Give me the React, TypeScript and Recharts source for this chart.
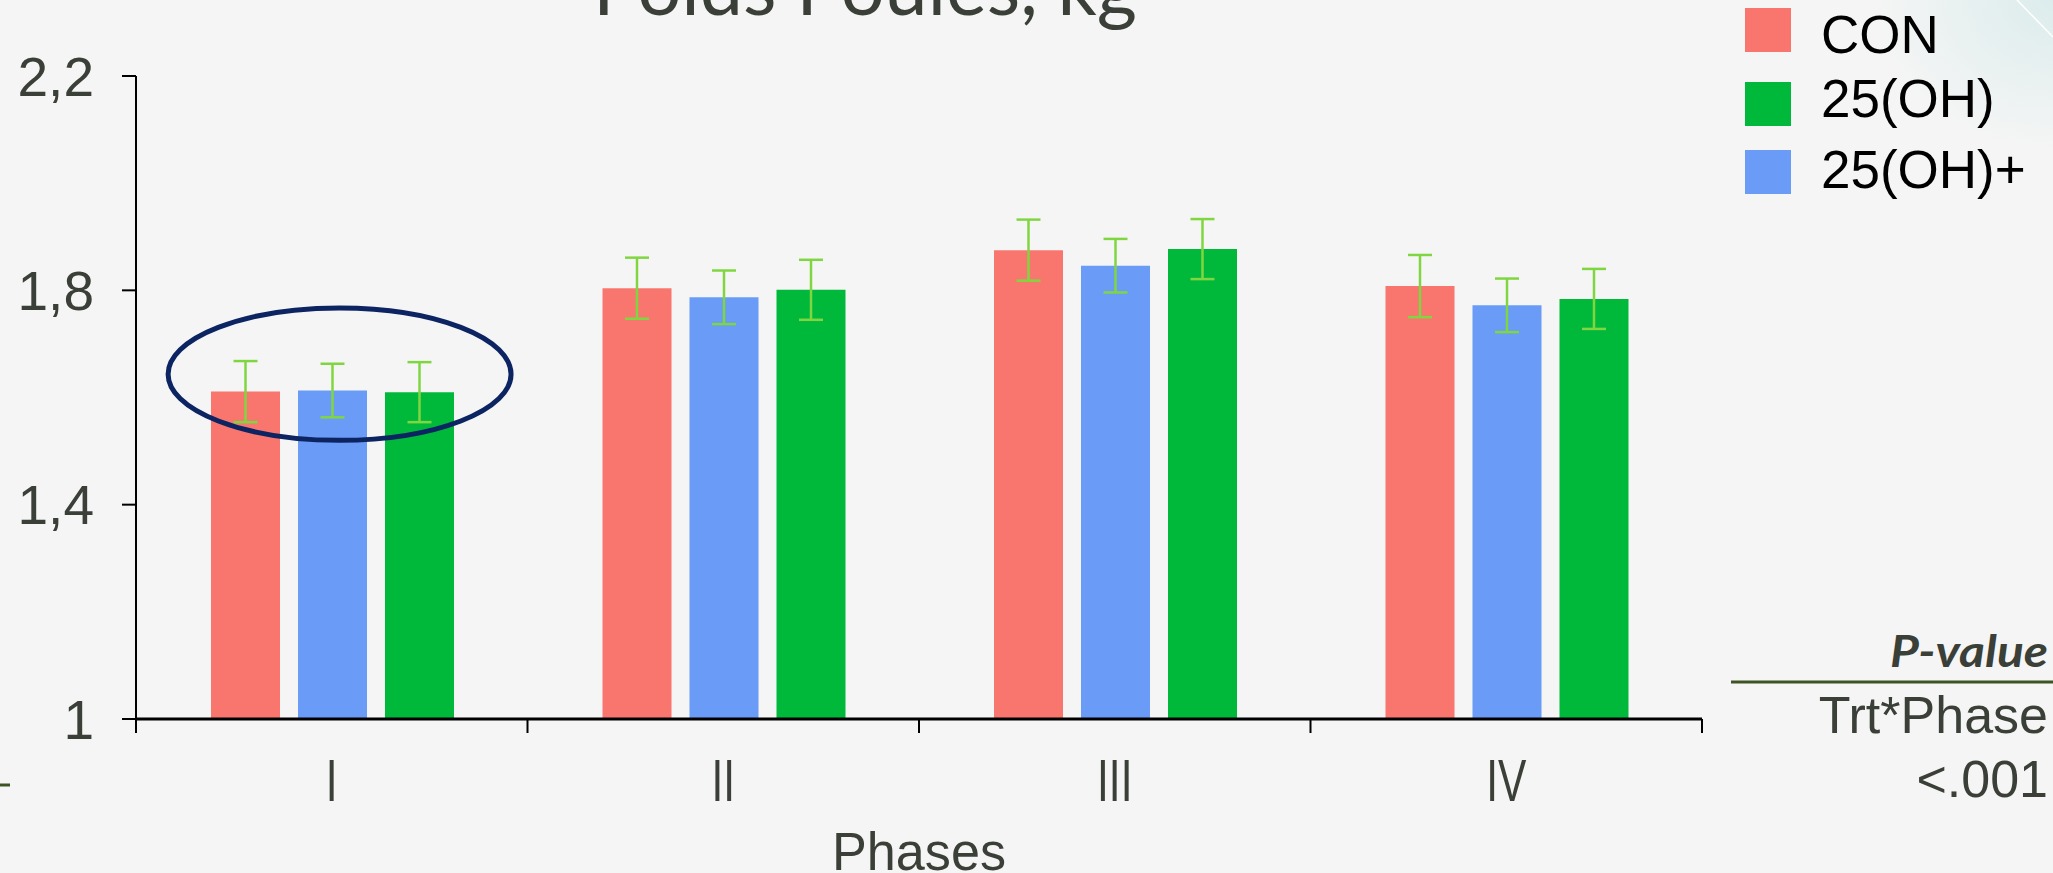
import React from "react";
import { ComposedChart, Bar, ErrorBar, XAxis, YAxis, ReferenceArea } from "recharts";

// values (kg)
const phases = ["I", "II", "III", "IV"];
const conMean = [1.611, 1.804, 1.875, 1.808];
const conErr = [0.057, 0.057, 0.057, 0.058];
const ohPlusMean = [1.613, 1.787, 1.846, 1.772];
const ohPlusErr = [0.05, 0.05, 0.05, 0.05];
const ohMean = [1.61, 1.801, 1.877, 1.784];
const ohErr = [0.056, 0.056, 0.056, 0.056];
const yTicks = [1, 1.4, 1.8, 2.2];

const legendNames = ["CON", "25(OH)", "25(OH)+"];

const RED = "#F8766D";
const GREEN = "#00B93A";
const BLUE = "#699BF7";
const ERR = "#80D641";
const NAVY = "#0C2461";
const TEXT = "#3A3F37";
const OLIVE = "#3F5424";
const FONT = "'Liberation Sans', Arial, sans-serif";

const legendColors = [RED, GREEN, BLUE];
const legendTop = [8, 82, 150];
const legendBase = [53, 117, 188];

const data = phases.map((p, i) => ({
  phase: p,
  con: conMean[i],
  conErr: conErr[i],
  ohPlus: ohPlusMean[i],
  ohPlusErr: ohPlusErr[i],
  oh: ohMean[i],
  ohErr: ohErr[i],
}));

function PhaseTick(props: any) {
  const { x, y, payload, index } = props;
  const half = payload.offset ?? 0;
  return (
    <g>
      <line x1={x - half} x2={x - half} y1={y} y2={y + 14} stroke="#000" strokeWidth={2} />
      {index === phases.length - 1 && (
        <line x1={x + half} x2={x + half} y1={y} y2={y + 14} stroke="#000" strokeWidth={2} />
      )}
      <text
        transform={`translate(${x},${y + 82}) scale(0.72,1)`}
        textAnchor="middle"
        fontSize={59}
        fill={TEXT}
        fontFamily={FONT}
      >
        {payload.value}
      </text>
    </g>
  );
}

function PhasesLabel(props: any) {
  const vb = props.viewBox;
  if (!vb) return null;
  return (
    <text
      x={vb.x + vb.width / 2}
      y={vb.y + 151}
      textAnchor="middle"
      fontSize={54}
      fill={TEXT}
      fontFamily={FONT}
      textLength={174}
      lengthAdjust="spacingAndGlyphs"
    >
      Phases
    </text>
  );
}

// circled group in phase I
function EllipseShape(p: any) {
  return (
    <ellipse
      cx={p.x + p.width * 0.52}
      cy={p.y + p.height / 2}
      rx={p.width * 0.438}
      ry={p.height / 2}
      fill="none"
      stroke={NAVY}
      strokeWidth={5}
    />
  );
}

export default function App() {
  return (
    <div
      style={{
        position: "absolute",
        left: 0,
        top: 0,
        width: 2053,
        height: 873,
        background: "#F5F5F5",
        overflow: "hidden",
      }}
    >
      <div
        style={{
          position: "absolute",
          right: 0,
          top: 0,
          width: 260,
          height: 200,
          background:
            "radial-gradient(ellipse 180px 150px at 100% 0%, #DCECEC 0%, rgba(245,245,245,0) 100%)",
        }}
      />
      <div style={{ position: "absolute", left: 0, top: 0 }}>
        <ComposedChart
          width={2053}
          height={873}
          data={data}
          margin={{ top: 76, right: 351, bottom: 54, left: 16 }}
          barCategoryGap={75}
          barGap={18}
        >
          <XAxis
            dataKey="phase"
            height={100}
            tickSize={0}
            tickMargin={0}
            tickLine={false}
            interval={0}
            axisLine={{ stroke: "#000", strokeWidth: 3 }}
            tick={<PhaseTick />}
            label={<PhasesLabel />}
          />
          <YAxis
            domain={[1, 2.2]}
            ticks={yTicks}
            width={120}
            tickSize={14}
            tickMargin={28}
            allowDataOverflow
            axisLine={{ stroke: "#000", strokeWidth: 2 }}
            tickLine={{ stroke: "#000", strokeWidth: 2 }}
            tick={{ fontSize: 55, fill: TEXT, fontFamily: FONT }}
            tickFormatter={(v: number) => String(v).replace(".", ",")}
          />
          <Bar dataKey="con" fill={RED} isAnimationActive={false}>
            <ErrorBar dataKey="conErr" width={12} stroke={ERR} strokeWidth={2.5} />
          </Bar>
          <Bar dataKey="ohPlus" fill={BLUE} isAnimationActive={false}>
            <ErrorBar dataKey="ohPlusErr" width={12} stroke={ERR} strokeWidth={2.5} />
          </Bar>
          <Bar dataKey="oh" fill={GREEN} isAnimationActive={false}>
            <ErrorBar dataKey="ohErr" width={12} stroke={ERR} strokeWidth={2.5} />
          </Bar>
          <ReferenceArea
            x1="I"
            x2="I"
            y1={1.52}
            y2={1.767}
            ifOverflow="visible"
            shape={EllipseShape}
            zIndex={1000}
          />
        </ComposedChart>
      </div>

      <svg
        width={2053}
        height={873}
        style={{ position: "absolute", left: 0, top: 0, pointerEvents: "none" }}
      >
        <line x1={2017} y1={0} x2={2053} y2={37} stroke="#FFFFFF" strokeWidth={1.5} />
        <text
          x={865}
          y={15}
          textAnchor="middle"
          fontFamily="Lato, 'Open Sans', sans-serif"
          fontSize={78}
          fill={TEXT}
          textLength={544}
          lengthAdjust="spacingAndGlyphs"
        >
          Poids Poules, kg
        </text>

        {legendNames.map((name, i) => (
          <g key={name}>
            <rect x={1745} y={legendTop[i]} width={46} height={44} fill={legendColors[i]} />
            <text x={1821} y={legendBase[i]} fontSize={53} fontFamily={FONT} fill="#000">
              {name}
            </text>
          </g>
        ))}

        <text
          x={2048}
          y={667}
          textAnchor="end"
          fontSize={44}
          fontWeight="bold"
          fontStyle="italic"
          fontFamily="Lato, 'Open Sans', sans-serif"
          fill={TEXT}
          textLength={158}
          lengthAdjust="spacingAndGlyphs"
        >
          P-value
        </text>
        <line x1={1731} y1={682} x2={2053} y2={682} stroke={OLIVE} strokeWidth={3} />
        <text x={2048} y={733} textAnchor="end" fontSize={52} fontFamily={FONT} fill={TEXT}>
          Trt*Phase
        </text>
        <text x={2048} y={797} textAnchor="end" fontSize={52} fontFamily={FONT} fill={TEXT}>
          {"<.001"}
        </text>
        <line x1={0} y1={785} x2={10} y2={785} stroke={OLIVE} strokeWidth={3} />
      </svg>
    </div>
  );
}
